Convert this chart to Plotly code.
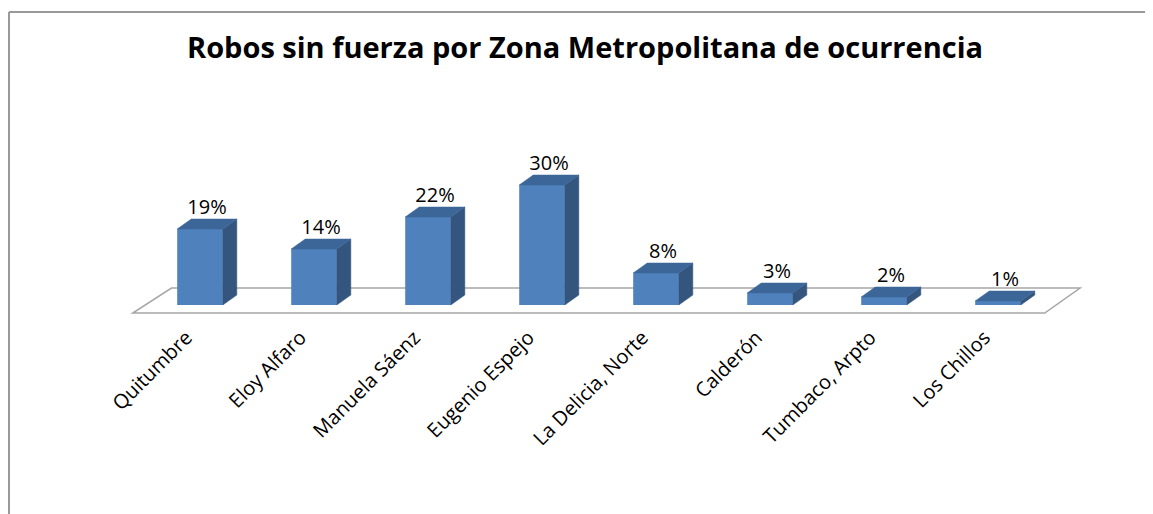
import plotly.graph_objects as go

zonas = ["Quitumbre", "Eloy Alfaro", "Manuela Sáenz", "Eugenio Espejo",
         "La Delicia, Norte", "Calderón", "Tumbaco, Arpto", "Los Chillos"]
porcentajes = [19, 14, 22, 30, 8, 3, 2, 1]
etiquetas = [f"{v}%" for v in porcentajes]

# la página deja 8px de margen en el body, así que el lienzo es un poco menor
W, H = 1145, 506
L, R, T, B = 21, 41, 153, 193
plot_w = W - L - R
plot_h = H - T - B

front_col = "#4F81BD"
side_col = "#33557E"
top_col = "#3D6698"

bw = 0.4      # ancho de barra (unidades de categoría)
dx = 0.123    # profundidad en x
dy = 2.5      # profundidad en y (%)

n = len(zonas)
fig = go.Figure()

for i, v in enumerate(porcentajes):
    x0, x1 = i - bw / 2, i + bw / 2
    # cara lateral
    fig.add_trace(go.Scatter(
        x=[x1, x1 + dx, x1 + dx, x1, x1], y=[0, dy, v + dy, v, 0],
        mode="lines", fill="toself", fillcolor=side_col,
        line=dict(color=side_col, width=0.5),
        hoverinfo="skip", showlegend=False))
    # cara superior
    fig.add_trace(go.Scatter(
        x=[x0, x1, x1 + dx, x0 + dx, x0], y=[v, v, v + dy, v + dy, v],
        mode="lines", fill="toself", fillcolor=top_col,
        line=dict(color=top_col, width=0.5),
        hoverinfo="skip", showlegend=False))

# cara frontal
fig.add_trace(go.Bar(
    x=list(range(n)), y=porcentajes, width=bw,
    marker=dict(color=front_col, line=dict(width=0)),
    hoverinfo="skip", showlegend=False))

# etiquetas de datos
fig.add_trace(go.Scatter(
    x=[i + dx / 2 for i in range(n)], y=[v + dy for v in porcentajes],
    mode="text", text=etiquetas, textposition="top center", cliponaxis=False,
    textfont=dict(family="Open Sans", size=20, color="black"),
    hoverinfo="skip", showlegend=False))

# piso (debajo de las barras)
fx = [-0.59, n - 1 + 0.41, n - 1 + 0.72, -0.25]
fy = [-2, -2, 4.25, 4.25]
fig.add_shape(type="path", xref="x", yref="y", layer="below",
              path="M " + " L ".join(f"{a},{b}" for a, b in zip(fx, fy)) + " Z",
              fillcolor="white", line=dict(color="#a6a6a6", width=1.5))

# marco
def px_x(p):
    return (p - L) / plot_w

def px_y(p):
    return (H - B - p) / plot_h

fig.add_shape(type="line", xref="paper", yref="paper",
              x0=px_x(1), x1=px_x(W + 5), y0=px_y(4), y1=px_y(4),
              line=dict(color="#999999", width=2))
fig.add_shape(type="line", xref="paper", yref="paper",
              x0=px_x(1), x1=px_x(1), y0=px_y(4), y1=px_y(H + 5),
              line=dict(color="#999999", width=2))

fig.update_layout(
    width=W, height=H,
    margin=dict(l=L, r=R, t=T, b=B),
    paper_bgcolor="white", plot_bgcolor="white",
    title=dict(text="<b>Robos sin fuerza por Zona Metropolitana de ocurrencia</b>",
               x=577 / W, xanchor="center", y=1 - 40 / H, yanchor="middle",
               font=dict(family="Open Sans", size=29, color="black")),
    xaxis=dict(range=[-1.5, 8.0], tickmode="array",
               tickvals=[i - 0.12 for i in range(n)],
               ticktext=zonas, tickangle=-45, showgrid=False, zeroline=False,
               showline=False, ticks="",
               tickfont=dict(family="Open Sans", size=20, color="black")),
    yaxis=dict(range=[-4, 36], visible=False, showgrid=False, zeroline=False),
)

fig.write_html("out.html")
